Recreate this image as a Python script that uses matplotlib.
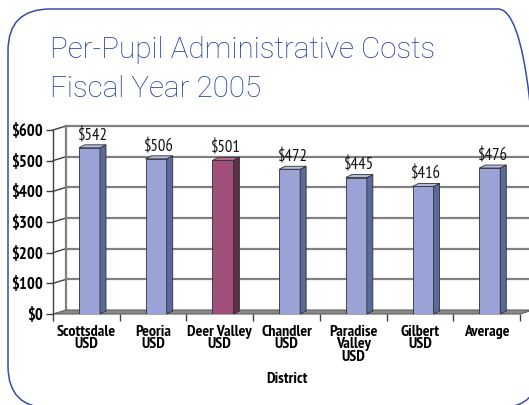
import numpy as np
import matplotlib.pyplot as plt
from matplotlib import font_manager
from matplotlib.patches import Polygon, FancyBboxPatch
from matplotlib.transforms import IdentityTransform

# datos del grafico
distritos = ["Scottsdale\nUSD", "Peoria\nUSD", "Deer Valley\nUSD", "Chandler\nUSD",
             "Paradise\nValley\nUSD", "Gilbert\nUSD", "Average"]
costos = [542, 506, 501, 472, 445, 416, 476]
resaltado = [False, False, True, False, False, False, False]
ticks_y = [0, 100, 200, 300, 400, 500, 600]


def peso(f):
    try:
        return int(f.weight)
    except ValueError:
        return 700 if 'bold' in str(f.weight) else 400


# buscar una fuente angosta con negrita
negritas = {f.name for f in font_manager.fontManager.ttflist if peso(f) >= 600}
fuente = dict(family=['DejaVu Sans'], fontstretch='condensed')
for cand in ['Liberation Sans Narrow', 'Arial Narrow', 'PT Sans Narrow', 'Archivo Narrow',
             'Roboto Condensed', 'Open Sans Condensed', 'Encode Sans Condensed']:
    if cand in negritas:
        fuente = dict(family=[cand, 'DejaVu Sans'])
        break

fig = plt.figure(figsize=(5.29, 4.05), dpi=100)
fig.patch.set_facecolor('white')

# marco redondeado
marco = FancyBboxPatch((8, -3), 532, 399, boxstyle="round,pad=0,rounding_size=42",
                       transform=IdentityTransform(), fc='none', ec='#3a4ba8', lw=1.1)
fig.patches.append(marco)

titulo = dict(family=['Roboto', 'DejaVu Sans'], fontweight='light', fontsize=21.3,
              color='#2238a0', va='baseline', ha='left')
fig.text(50 / 529, 1 - 58 / 405, "Per-Pupil Administrative Costs", **titulo)
fig.text(50 / 529, 1 - 97 / 405, "Fiscal Year 2005", **titulo)

ax = fig.add_axes([53 / 529, 1 - 314 / 405, 467 / 529, 184 / 405])
ax.set_xlim(-0.5, 6.5)
ax.set_ylim(0, 600)
for s in ax.spines.values():
    s.set_visible(False)

# profundidad del efecto 3D (en unidades de datos)
px_x = 7 / 467
px_y = 600 / 184
dx_pared, dy_pared = 13 * px_x, 4 * px_y
dx_barra, dy_barra = 6 * px_x, 3 * px_y

gris = '#808080'
# lineas de la pared del fondo y lateral
for v in ticks_y[1:]:
    ax.plot([-0.5 + dx_pared, 6.5 + dx_pared], [v + dy_pared, v + dy_pared],
            color=gris, lw=1.6, clip_on=False, zorder=1)
    ax.plot([-0.5, -0.5 + dx_pared], [v, v + dy_pared], color='#404040', lw=1.0,
            clip_on=False, zorder=1)
ax.plot([-0.5 + dx_pared, -0.5 + dx_pared], [dy_pared, 600 + dy_pared], color=gris,
        lw=1.6, clip_on=False, zorder=1)

# piso
piso = Polygon([(-0.5, 0), (6.5, 0), (6.5 + dx_pared, dy_pared), (-0.5 + dx_pared, dy_pared)],
               closed=True, fc='#8a8a8a', ec='#606060', lw=0.8, clip_on=False, zorder=1)
ax.add_patch(piso)

# eje y frontal
ax.plot([-0.5, -0.5], [0, 600], color='#404040', lw=1.0, clip_on=False, zorder=2)

x = np.arange(len(costos))
ancho = 0.315
off = 0.047
for xi, v, r in zip(x, costos, resaltado):
    frente = '#a0507a' if r else '#99a3d5'
    lado = '#5e2e47' if r else '#5a689b'
    arriba = '#b86e92' if r else '#b3bbe2'
    x0 = xi + off - ancho / 2
    x1 = xi + off + ancho / 2
    ax.bar(xi + off, v, width=ancho, color=frente, edgecolor='#303030', lw=0.6, zorder=3)
    ax.add_patch(Polygon([(x1, 0), (x1 + dx_barra, dy_barra), (x1 + dx_barra, v + dy_barra), (x1, v)],
                         closed=True, fc=lado, ec='#303030', lw=0.6, zorder=3, clip_on=False))
    ax.add_patch(Polygon([(x0, v), (x0 + dx_barra, v + dy_barra), (x1 + dx_barra, v + dy_barra), (x1, v)],
                         closed=True, fc=arriba, ec='#303030', lw=0.6, zorder=3, clip_on=False))
    ax.text(xi + off + dx_barra / 2, v + dy_barra + 2, f"${v}", ha='center', va='bottom',
            fontsize=12, color='#111111', zorder=4, **fuente)

ax.set_yticks(ticks_y)
ax.set_yticklabels([f"${v}" for v in ticks_y], fontweight='bold', fontsize=12, **fuente)
ax.tick_params(axis='y', length=5, width=1.0, color='#404040', pad=2)

ax.set_xticks(x)
ax.set_xticklabels(distritos, fontweight='bold', fontsize=11.5, linespacing=0.85, **fuente)
ax.set_xticks(np.arange(-0.5, 7, 1), minor=True)
ax.tick_params(axis='x', which='major', length=0, pad=8)
ax.tick_params(axis='x', which='minor', length=5, width=1.0, color='#404040')
ax.set_xlabel("District", fontweight='bold', fontsize=11.5, labelpad=6, **fuente)

fig.savefig("out.png", dpi=100)
